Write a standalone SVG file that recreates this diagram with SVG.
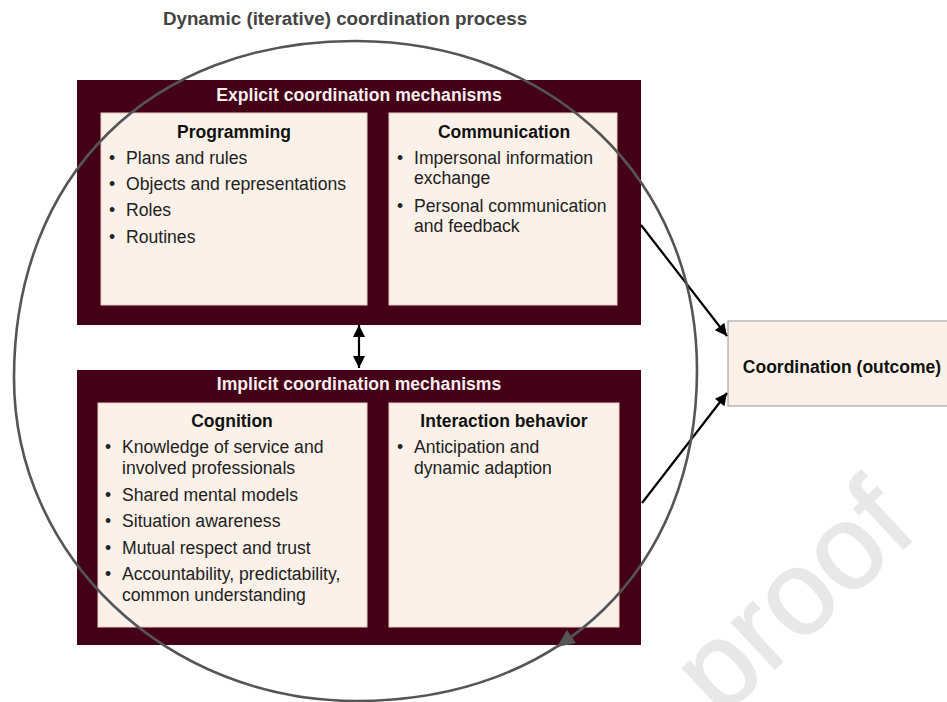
<svg xmlns="http://www.w3.org/2000/svg" width="947" height="702" viewBox="0 0 947 702">
  <defs>
    <style>
      .outer { fill: #440016; }
      .inner { fill: #fbf1e8; stroke: #e8cfc8; stroke-width: 1; }
      .hdr { font-family: "Liberation Sans", Arial, sans-serif; font-weight: bold; font-size: 17.6px; fill: #f7eef0; text-anchor: middle; }
      .ttl { font-family: "Liberation Sans", Arial, sans-serif; font-weight: bold; font-size: 17.5px; fill: #111; text-anchor: middle; }
      .body { font-family: "Liberation Sans", Arial, sans-serif; font-size: 17.6px; fill: #222; }
      .main { font-family: "Liberation Sans", Arial, sans-serif; font-weight: bold; font-size: 18.8px; fill: #444; text-anchor: middle; }
      .conn { stroke: #000; stroke-width: 2.2; fill: none; }
      .cycle { stroke: #555; stroke-width: 2.6; fill: none; stroke-linecap: round; }
      .wm { font-family: "Liberation Sans", Arial, sans-serif; font-size: 120px; fill: #e8e8e8; stroke: #e8e8e8; stroke-width: 1.5; }
    </style>
    <marker id="ah" viewBox="0 0 10 10" refX="10" refY="5" markerWidth="14" markerHeight="12" markerUnits="userSpaceOnUse" orient="auto-start-reverse">
      <path d="M0,0 L10,5 L0,10 z" fill="#000"/>
    </marker>
  </defs>

  <rect width="947" height="702" fill="#fff"/>

  <text class="wm" x="720" y="720" transform="rotate(-43 720 720)">proof</text>

  <text class="main" x="345" y="25">Dynamic (iterative) coordination process</text>

  <g id="explicit">
    <rect class="outer" x="77" y="80" width="564" height="245"/>
    <text class="hdr" x="359" y="101">Explicit coordination mechanisms</text>
  </g>

  <g id="programming">
    <rect class="inner" x="101" y="113" width="266" height="192"/>
    <text class="ttl" x="234" y="138">Programming</text>
    <text class="body"><tspan x="109" y="164">•</tspan><tspan x="126" y="164">Plans and rules</tspan></text>
    <text class="body"><tspan x="109" y="190">•</tspan><tspan x="126" y="190">Objects and representations</tspan></text>
    <text class="body"><tspan x="109" y="216">•</tspan><tspan x="126" y="216">Roles</tspan></text>
    <text class="body"><tspan x="109" y="243">•</tspan><tspan x="126" y="243">Routines</tspan></text>
  </g>

  <g id="communication">
    <rect class="inner" x="389" y="113" width="228" height="192"/>
    <text class="ttl" x="504" y="138">Communication</text>
    <text class="body"><tspan x="397" y="164">•</tspan><tspan x="414" y="164">Impersonal information</tspan><tspan x="414" y="184">exchange</tspan></text>
    <text class="body"><tspan x="397" y="212">•</tspan><tspan x="414" y="212">Personal communication</tspan><tspan x="414" y="232">and feedback</tspan></text>
  </g>

  <g id="implicit">
    <rect class="outer" x="77" y="370" width="564" height="275"/>
    <text class="hdr" x="359" y="390">Implicit coordination mechanisms</text>
  </g>

  <g id="cognition">
    <rect class="inner" x="98" y="403" width="269" height="224"/>
    <text class="ttl" x="232" y="427">Cognition</text>
    <text class="body"><tspan x="105" y="453">•</tspan><tspan x="122" y="453">Knowledge of service and</tspan><tspan x="122" y="474">involved professionals</tspan></text>
    <text class="body"><tspan x="105" y="501">•</tspan><tspan x="122" y="501">Shared mental models</tspan></text>
    <text class="body"><tspan x="105" y="527">•</tspan><tspan x="122" y="527">Situation awareness</tspan></text>
    <text class="body"><tspan x="105" y="554">•</tspan><tspan x="122" y="554">Mutual respect and trust</tspan></text>
    <text class="body"><tspan x="105" y="580">•</tspan><tspan x="122" y="580">Accountability, predictability,</tspan><tspan x="122" y="601">common understanding</tspan></text>
  </g>

  <g id="interaction">
    <rect class="inner" x="389" y="403" width="230" height="224"/>
    <text class="ttl" x="504" y="427">Interaction behavior</text>
    <text class="body"><tspan x="397" y="453">•</tspan><tspan x="414" y="453">Anticipation and</tspan><tspan x="414" y="474">dynamic adaption</tspan></text>
  </g>

  <g id="outcome">
    <rect x="728" y="321" width="230" height="85" fill="#fbf1e8" stroke="#a8a8a8" stroke-width="1.2"/>
    <text class="ttl" x="842" y="373">Coordination (outcome)</text>
  </g>

  <g id="connectors">
    <line class="conn" x1="359" y1="325" x2="359" y2="368" marker-start="url(#ah)" marker-end="url(#ah)"/>
    <line class="conn" x1="641" y1="225" x2="727" y2="336" marker-end="url(#ah)"/>
    <line class="conn" x1="642" y1="503" x2="727" y2="393" marker-end="url(#ah)"/>
    <path class="cycle" d="M355,41 C553,41 697,180 697,370 C697,568 561,701 356,701 C167,701 14,556 14,378 C14,176 150,41 355,41 Z"/>
    <polygon points="557,647 576,643 567,630" fill="#555"/>
  </g>
</svg>
